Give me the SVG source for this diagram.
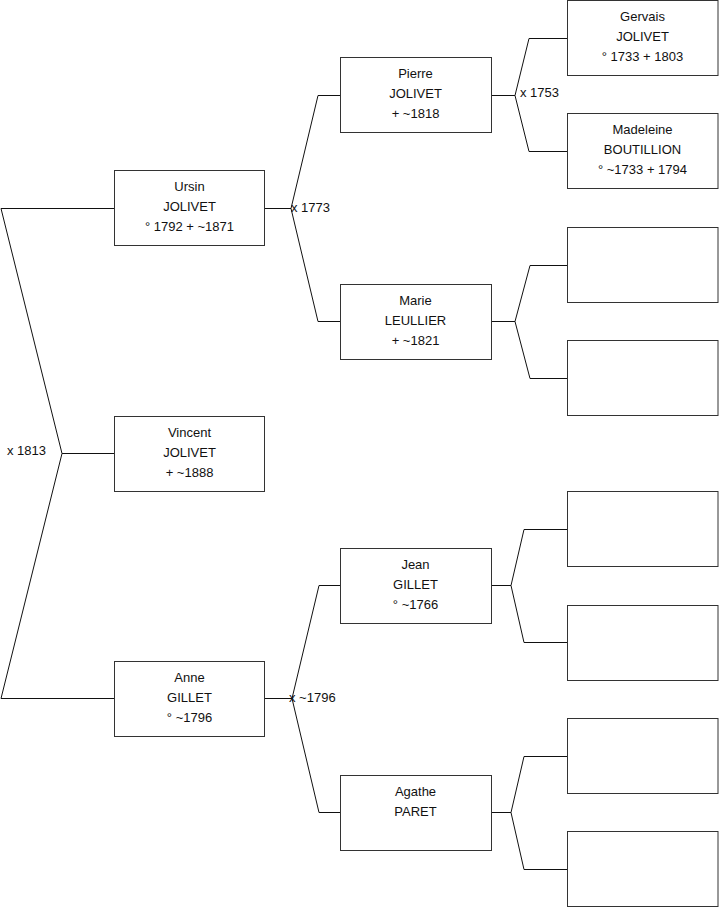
<svg xmlns="http://www.w3.org/2000/svg" width="719" height="908" viewBox="0 0 719 908">
<style>
.box{fill:#fff;stroke:#333;stroke-width:1}
.ln{fill:none;stroke:#111;stroke-width:1}
text{font-family:"Liberation Sans",Arial,sans-serif;font-size:13px;fill:#111}
.c{text-anchor:middle}
</style>
<rect width="719" height="908" fill="#fff"/>
<g id="connectors">
<polyline class="ln" points="114,208.5 1,208.5 62,453.5 1,698.5 114,698.5"/>
<line class="ln" x1="62" y1="453.5" x2="114" y2="453.5"/>
<line class="ln" x1="265" y1="208.5" x2="291" y2="208.5"/>
<polyline class="ln" points="340,95.5 318,95.5 291,208.5 318,321.5 340,321.5"/>
<line class="ln" x1="265" y1="698.5" x2="292" y2="698.5"/>
<polyline class="ln" points="340,585.5 319,585.5 292,698.5 319,812.5 340,812.5"/>
<line class="ln" x1="491" y1="95.5" x2="515" y2="95.5"/>
<polyline class="ln" points="567,38.5 529,38.5 515,95.5 529,151.5 567,151.5"/>
<line class="ln" x1="491" y1="321.5" x2="515" y2="321.5"/>
<polyline class="ln" points="567,265.5 530,265.5 515,321.5 530,378.5 567,378.5"/>
<line class="ln" x1="491" y1="585.5" x2="511" y2="585.5"/>
<polyline class="ln" points="567,529.5 524,529.5 511,585.5 524,642.5 567,642.5"/>
<line class="ln" x1="491" y1="812.5" x2="511" y2="812.5"/>
<polyline class="ln" points="567,756.5 524,756.5 511,812.5 524,869.5 567,869.5"/>
<text x="7" y="455">x 1813</text>
<text x="291" y="212">x 1773</text>
<text x="289" y="702">x ~1796</text>
<text x="520" y="97">x 1753</text>
</g>
<g id="ursin">
<rect class="box" x="114.5" y="170.5" width="150" height="75"/>
<text class="c" x="189.5" y="191">Ursin</text>
<text class="c" x="189.5" y="211">JOLIVET</text>
<text class="c" x="189.5" y="231">° 1792 + ~1871</text>
</g>
<g id="vincent">
<rect class="box" x="114.5" y="416.5" width="150" height="75"/>
<text class="c" x="189.5" y="437">Vincent</text>
<text class="c" x="189.5" y="457">JOLIVET</text>
<text class="c" x="189.5" y="477"> + ~1888</text>
</g>
<g id="anne">
<rect class="box" x="114.5" y="661.5" width="150" height="75"/>
<text class="c" x="189.5" y="682">Anne</text>
<text class="c" x="189.5" y="702">GILLET</text>
<text class="c" x="189.5" y="722">° ~1796</text>
</g>
<g id="pierre">
<rect class="box" x="340.5" y="57.5" width="151" height="75"/>
<text class="c" x="415.5" y="78">Pierre</text>
<text class="c" x="415.5" y="98">JOLIVET</text>
<text class="c" x="415.5" y="118">+ ~1818</text>
</g>
<g id="marie">
<rect class="box" x="340.5" y="284.5" width="151" height="75"/>
<text class="c" x="415.5" y="305">Marie</text>
<text class="c" x="415.5" y="325">LEULLIER</text>
<text class="c" x="415.5" y="345">+ ~1821</text>
</g>
<g id="jean">
<rect class="box" x="340.5" y="548.5" width="151" height="75"/>
<text class="c" x="415.5" y="569">Jean</text>
<text class="c" x="415.5" y="589">GILLET</text>
<text class="c" x="415.5" y="609">° ~1766</text>
</g>
<g id="agathe">
<rect class="box" x="340.5" y="775.5" width="151" height="75"/>
<text class="c" x="415.5" y="796">Agathe</text>
<text class="c" x="415.5" y="816">PARET</text>
</g>
<g id="gervais">
<rect class="box" x="567.5" y="0.5" width="150.5" height="75"/>
<text class="c" x="642.5" y="21">Gervais</text>
<text class="c" x="642.5" y="41">JOLIVET</text>
<text class="c" x="642.5" y="61">° 1733 + 1803</text>
</g>
<g id="madeleine">
<rect class="box" x="567.5" y="113.5" width="150.5" height="75"/>
<text class="c" x="642.5" y="134">Madeleine</text>
<text class="c" x="642.5" y="154">BOUTILLION</text>
<text class="c" x="642.5" y="174">° ~1733 + 1794</text>
</g>
<g id="empty3"><rect class="box" x="567.5" y="227.5" width="150.5" height="75"/></g>
<g id="empty4"><rect class="box" x="567.5" y="340.5" width="150.5" height="75"/></g>
<g id="empty5"><rect class="box" x="567.5" y="491.5" width="150.5" height="75"/></g>
<g id="empty6"><rect class="box" x="567.5" y="605.5" width="150.5" height="75"/></g>
<g id="empty7"><rect class="box" x="567.5" y="718.5" width="150.5" height="75"/></g>
<g id="empty8"><rect class="box" x="567.5" y="831.5" width="150.5" height="75"/></g>
</svg>
